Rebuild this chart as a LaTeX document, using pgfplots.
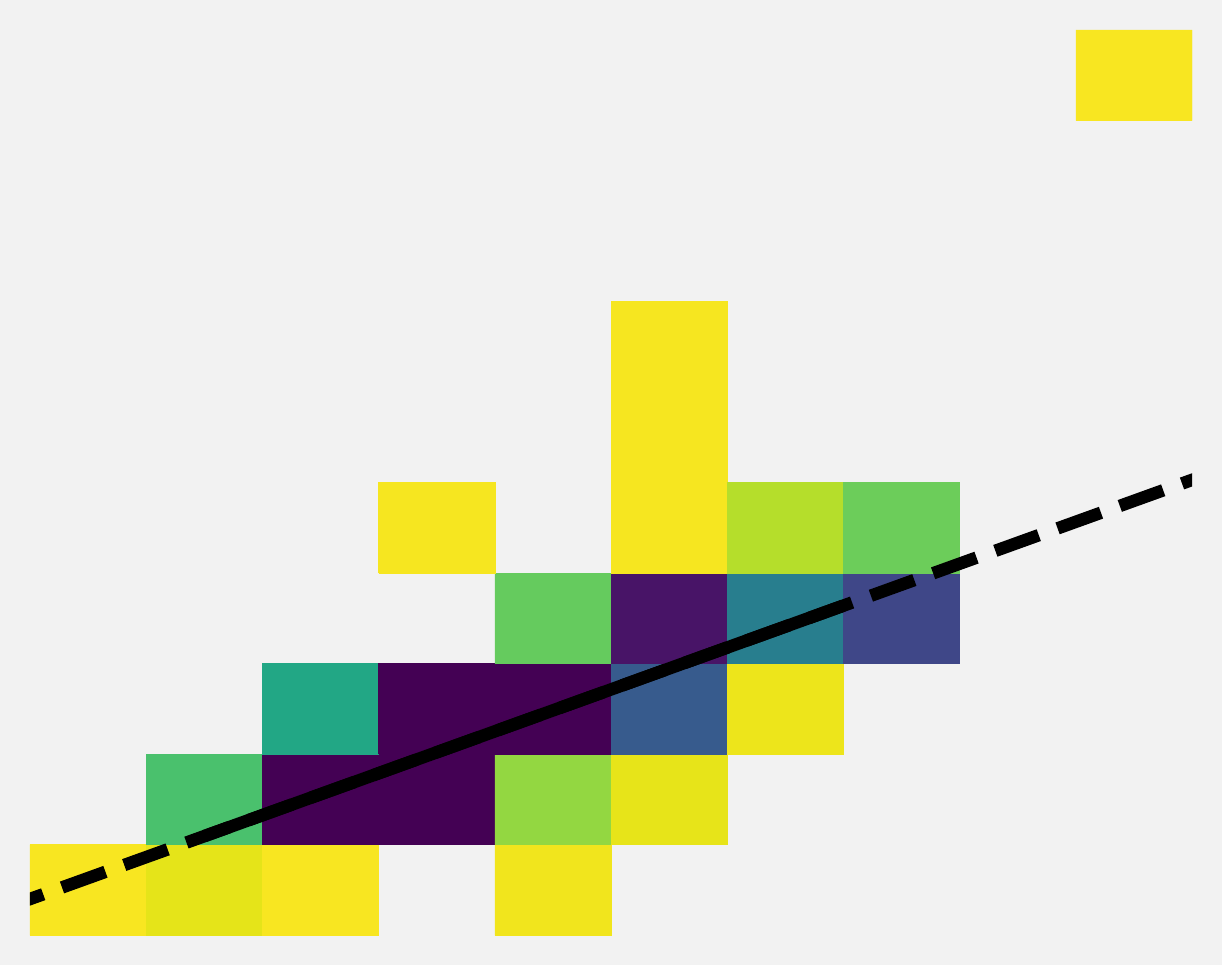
\documentclass[border=0pt]{standalone}
\usepackage{pgfplots}
\pgfplotsset{compat=1.18}
\usepackage{xcolor}
\definecolor{bg}{HTML}{F2F2F2}
\definecolor{yA}{HTML}{F8E621}
\definecolor{yB}{HTML}{E5E419}
\definecolor{yC}{HTML}{F1E51D}
\definecolor{yD}{HTML}{E7E419}
\definecolor{yE}{HTML}{EDE51B}
\definecolor{yF}{HTML}{F6E620}
\definecolor{gA}{HTML}{4AC16D}
\definecolor{gB}{HTML}{93D741}
\definecolor{gC}{HTML}{65CB5E}
\definecolor{gD}{HTML}{B5DE2B}
\definecolor{gE}{HTML}{6CCD5A}
\definecolor{tA}{HTML}{22A785}
\definecolor{tB}{HTML}{287E8E}
\definecolor{pA}{HTML}{440154}
\definecolor{pB}{HTML}{481467}
\definecolor{bA}{HTML}{375B8D}
\definecolor{bB}{HTML}{3F4788}

\begin{document}
\begin{tikzpicture}
	\fill[bg] (-15pt,-15pt) rectangle (596.5pt,468pt);
	\begin{axis}[
			scale only axis,
			width=581.5pt,
			height=453pt,
			xmin=0, xmax=10,
			ymin=0, ymax=10,
			hide axis,
			clip=true,
			every axis plot/.append style={forget plot},
			cell/.style={fill=#1, draw=#1, line width=0.25pt},
		]
		% row 0
		\addplot[cell=yA] coordinates {(0,0) (1,0) (1,1) (0,1) (0,0)};
		\addplot[cell=yB] coordinates {(1,0) (2,0) (2,1) (1,1) (1,0)};
		\addplot[cell=yA] coordinates {(2,0) (3,0) (3,1) (2,1) (2,0)};
		\addplot[cell=yC] coordinates {(4,0) (5,0) (5,1) (4,1) (4,0)};
		% row 1
		\addplot[cell=gA] coordinates {(1,1) (2,1) (2,2) (1,2) (1,1)};
		\addplot[cell=pA] coordinates {(2,1) (4,1) (4,2) (2,2) (2,1)};
		\addplot[cell=gB] coordinates {(4,1) (5,1) (5,2) (4,2) (4,1)};
		\addplot[cell=yD] coordinates {(5,1) (6,1) (6,2) (5,2) (5,1)};
		% row 2
		\addplot[cell=tA] coordinates {(2,2) (3,2) (3,3) (2,3) (2,2)};
		\addplot[cell=pA] coordinates {(3,2) (5,2) (5,3) (3,3) (3,2)};
		\addplot[cell=bA] coordinates {(5,2) (6,2) (6,3) (5,3) (5,2)};
		\addplot[cell=yE] coordinates {(6,2) (7,2) (7,3) (6,3) (6,2)};
		% row 3
		\addplot[cell=gC] coordinates {(4,3) (5,3) (5,4) (4,4) (4,3)};
		\addplot[cell=pB] coordinates {(5,3) (6,3) (6,4) (5,4) (5,3)};
		\addplot[cell=tB] coordinates {(6,3) (7,3) (7,4) (6,4) (6,3)};
		\addplot[cell=bB] coordinates {(7,3) (8,3) (8,4) (7,4) (7,3)};
		% rows 4-6
		\addplot[cell=yF] coordinates {(3,4) (4,4) (4,5) (3,5) (3,4)};
		\addplot[cell=yF] coordinates {(5,4) (6,4) (6,7) (5,7) (5,4)};
		\addplot[cell=gD] coordinates {(6,4) (7,4) (7,5) (6,5) (6,4)};
		\addplot[cell=gE] coordinates {(7,4) (8,4) (8,5) (7,5) (7,4)};
		% row 9
		\addplot[cell=yA] coordinates {(9,9) (10,9) (10,10) (9,10) (9,9)};
		% fitted line, dashed over the full range, solid over the data
		\addplot[black, line width=6.25pt, dash pattern=on 23.1pt off 10pt, dash phase=18.25pt]
			coordinates {(-0.5,0.1685) (10.5,5.2615)};
		\addplot[black, line width=6.25pt]
			coordinates {(1.5,1.0945) (7.0,3.641)};
	\end{axis}
	\pgfresetboundingbox
	\path[use as bounding box] (-15pt,-15pt) rectangle (596.5pt,468pt);
\end{tikzpicture}
\end{document}
